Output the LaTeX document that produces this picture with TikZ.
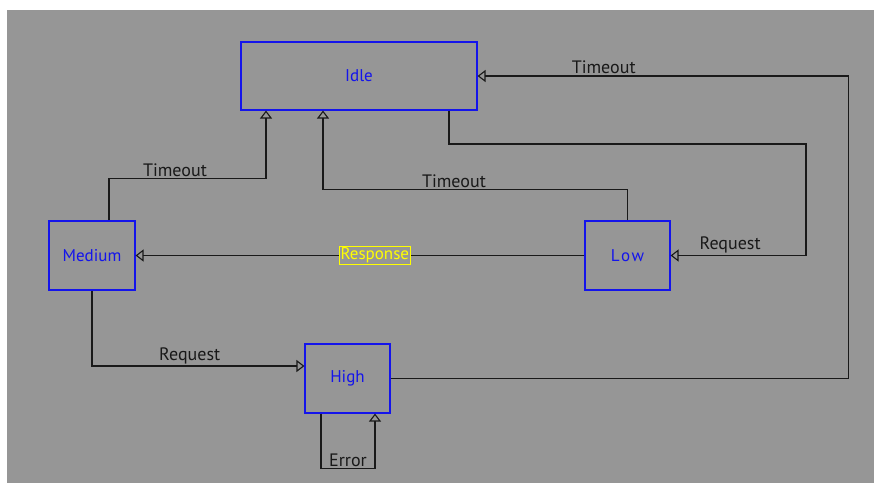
\documentclass[tikz,border=0pt]{standalone}
\usepackage{fontspec}
\setmainfont{PT Sans}
\usetikzlibrary{arrows.meta,positioning}
\definecolor{diagramgray}{RGB}{150,150,150}
\definecolor{stateblue}{RGB}{20,20,235}
\definecolor{flowblack}{RGB}{25,25,25}
\definecolor{labelyellow}{RGB}{255,255,0}

\begin{document}
\begin{tikzpicture}[x=1pt,y=-1pt,
    state/.style={draw=stateblue,line width=1.1pt,text=stateblue,font=\fontsize{17}{20}\selectfont,inner sep=0pt},
    flow/.style={draw=flowblack,line width=1.1pt,-{Triangle[open,length=8pt,width=12pt]}},
    flowlabel/.style={text=flowblack,font=\fontsize{18}{21}\selectfont,inner sep=1.5pt},
    replylabel/.style={draw=labelyellow,fill=diagramgray,text=labelyellow,line width=1.1pt,font=\fontsize{17}{20}\selectfont,inner sep=1pt}]
  \fill[white] (0,0) rectangle (874,483);
  \fill[diagramgray] (7,10) rectangle (874,483);

  \node[state,minimum width=236pt,minimum height=68pt] (idle) at (359,76) {Idle};
  \node[state,minimum width=86pt,minimum height=69pt] (medium) at (92,255.5) {Medium};
  \node[state,minimum width=85pt,minimum height=69pt] (low) at (627.5,255.5) {L\kern1.5pt o\kern1.5pt w};
  \node[state,minimum width=85pt,minimum height=69pt] (high) at (347.5,378.5) {High};

  \draw[flow] ([xshift=17pt]medium.north) -- ++(0,-42)
    -| ([xshift=-93pt]idle.south) node[flowlabel,pos=0.21,above] {Timeout};
  \draw[flow] (low.north) -- ++(0,-31)
    -| ([xshift=-36pt]idle.south) node[flowlabel,pos=0.285,above] {Timeout};
  \draw[flow] (low.west) -- (medium.east)
    node[replylabel,pos=0.467] {Response};
  \draw[flow] ([xshift=90pt]idle.south) |- (806,144)
    |- (low.east) node[flowlabel,pos=0.78,above] {Request};
  \draw[flow] (high.east) -- ++(458,0)
    |- (idle.east) node[flowlabel,pos=0.83,above] {Timeout};
  \draw[flow] (medium.south) |- ([yshift=12.5pt]high.west)
    node[flowlabel,pos=0.73,above] {Request};
  \draw[flow] ([xshift=-26.5pt]high.south) -- ++(0,55)
    -| ([xshift=27.5pt]high.south) node[flowlabel,pos=0.25,above] {Error};
\end{tikzpicture}
\end{document}
